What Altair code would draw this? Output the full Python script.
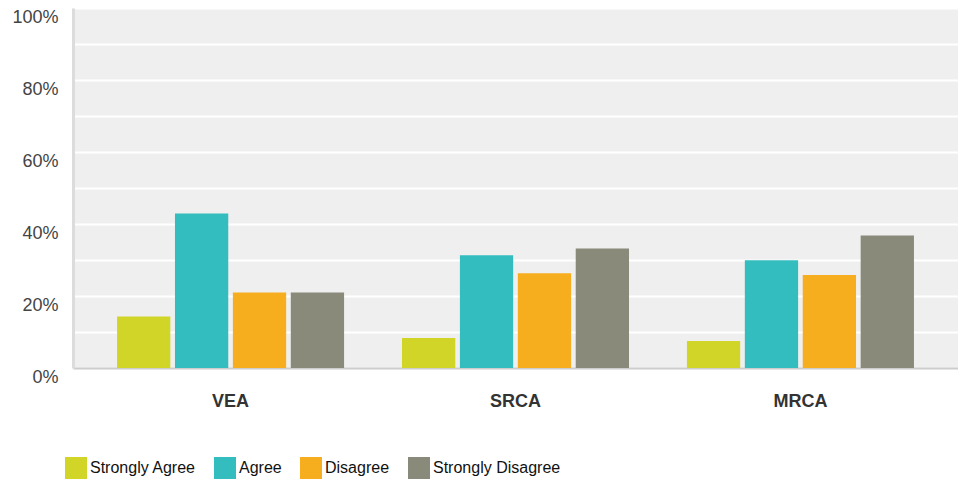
import altair as alt
import pandas as pd

categories = ["VEA", "SRCA", "MRCA"]
responses = ["Strongly Agree", "Agree", "Disagree", "Strongly Disagree"]
strongly_agree = [14.3, 8.3, 7.5]
agree = [42.9, 31.3, 29.9]
disagree = [21.0, 26.3, 25.8]
strongly_disagree = [21.0, 33.2, 36.8]
colors = ["#d0d528", "#34bdbf", "#f6ae1f", "#8a8a7a"]
y_ticks = [0, 10, 20, 30, 40, 50, 60, 70, 80, 90, 100]

series = [strongly_agree, agree, disagree, strongly_disagree]
rows = []
for resp, vals in zip(responses, series):
    for cat, v in zip(categories, vals):
        rows.append({"category": cat, "response": resp, "value": v})
df = pd.DataFrame(rows)

chart = alt.Chart(df).mark_bar().encode(
    x=alt.X("category:N", sort=categories,
            scale=alt.Scale(paddingInner=0, paddingOuter=0.053),
            axis=alt.Axis(title=None, labelAngle=0, labelFont="Liberation Sans",
                          labelFontSize=18, labelFontWeight="bold", labelColor="#333333",
                          labelPadding=24, ticks=False, domainColor="#cccccc",
                          domainWidth=2, grid=False)),
    xOffset=alt.XOffset("response:N", sort=responses,
                        scale=alt.Scale(paddingInner=0.08, paddingOuter=0.5)),
    y=alt.Y("value:Q", scale=alt.Scale(domain=[0, 100], nice=False),
            axis=alt.Axis(title=None, values=y_ticks,
                          labelExpr="datum.value % 20 == 0 ? datum.value + '%' : ''",
                          labelFont="Liberation Sans", labelFontSize=18,
                          labelColor="#444444", labelPadding=15, labelOffset=9,
                          labelOverlap=False, ticks=False, domainColor="#dcdcdc",
                          domainWidth=3, gridColor="#ffffff", gridWidth=2,
                          gridOpacity=1)),
    color=alt.Color("response:N", sort=responses,
                    scale=alt.Scale(domain=responses, range=colors),
                    legend=alt.Legend(title=None, orient="none", direction="horizontal",
                                      legendX=-8, legendY=449, symbolType="square",
                                      symbolSize=484, symbolStrokeWidth=0,
                                      symbolOpacity=1,
                                      labelFont="Liberation Sans",
                                      labelFontSize=16, labelColor="#111111",
                                      labelOffset=3, columnPadding=18, padding=0,
                                      columns=4)),
).properties(
    width=885,
    height=360,
    autosize=alt.AutoSizeParams(type="none"),
    padding={"left": 65, "top": 0, "right": 0, "bottom": 112},
).configure_view(
    fill="#efefef", strokeWidth=0
)

chart.save("out.html", embed_options={"renderer": "svg", "actions": False})
